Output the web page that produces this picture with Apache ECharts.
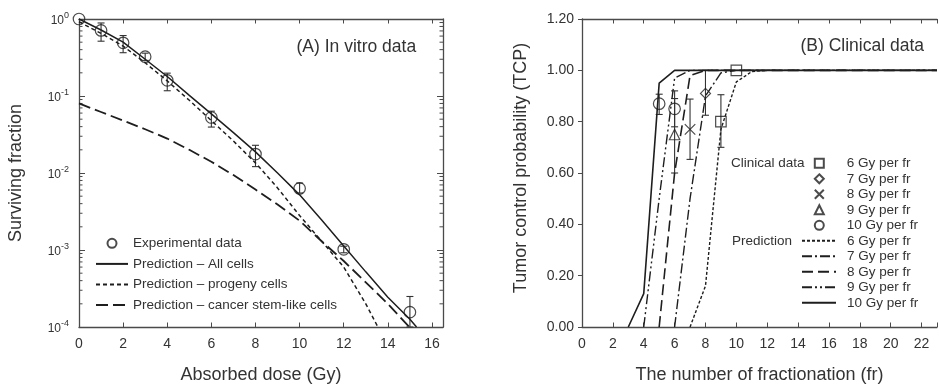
<!DOCTYPE html>
<html><head><meta charset="utf-8">
<script src="https://cdn.jsdelivr.net/npm/echarts@6/dist/echarts.min.js"></script>
<style>html,body{margin:0;padding:0;background:#fff}#c{width:940px;height:389px}</style>
</head><body><div id="c"></div>
<script>
// ---------- Panel A: in vitro data ----------
const doseTickLabels = [0, 2, 4, 6, 8, 10, 12, 14, 16];
const expDose   = [0, 1, 2, 3, 4, 6, 8, 10, 12, 15];
const expSF     = [1.0, 0.71, 0.49, 0.324, 0.16, 0.0526, 0.0176, 0.0063, 0.00102, 0.000156];
const expSFLow  = [1.0, 0.515, 0.365, 0.29, 0.117, 0.0395, 0.0121, 0.0055, 0.00092, 0.0001];
const expSFHigh = [1.0, 0.888, 0.61, 0.36, 0.198, 0.0635, 0.0229, 0.0074, 0.00112, 0.000249];

const allDose = [0, 1, 2, 3, 4, 5, 6, 7, 8, 9, 10, 11, 12, 13, 14, 15, 15.3];
const allSF   = [1.0, 0.72, 0.50, 0.30, 0.179, 0.102, 0.0586, 0.0335, 0.0188, 0.0100, 0.0052, 0.00245, 0.00113, 0.00052, 0.000244, 0.000126, 0.0001];

const progDose = [0, 1, 2, 3, 4, 5, 6, 7, 8, 9, 10, 11, 12, 13, 13.55];
const progSF   = [0.92, 0.65, 0.445, 0.27, 0.157, 0.088, 0.048, 0.026, 0.0135, 0.0064, 0.0028, 0.0013, 0.0006, 0.0002, 0.0001];

const stemDose = [0, 1, 2, 3, 4, 5, 6, 7, 8, 9, 10, 11, 12, 13, 14, 14.97];
const stemSF   = [0.08, 0.062, 0.048, 0.037, 0.028, 0.020, 0.014, 0.0094, 0.0061, 0.0039, 0.0024, 0.0013, 0.00072, 0.00038, 0.0002, 0.0001];

const logDecades = [0.0001, 0.001, 0.01, 0.1];
const logMinorMultipliers = [2, 3, 4, 5, 6, 7, 8, 9];

// ---------- Panel B: clinical data ----------
const frTickLabels = [0, 2, 4, 6, 8, 10, 12, 14, 16, 18, 20, 22];

const c6Fr = [9, 10],  c6Tcp = [0.80, 1.00],  c6Lo = [0.70, 1.00],  c6Hi = [0.905, 1.00];
const c7Fr = [8],      c7Tcp = [0.91],        c7Lo = [0.825],       c7Hi = [1.0];
const c8Fr = [7],      c8Tcp = [0.77],        c8Lo = [0.653],       c8Hi = [0.888];
const c9Fr = [6],      c9Tcp = [0.75],        c9Lo = [0.60],        c9Hi = [0.89];
const c10Fr = [5, 6],  c10Tcp = [0.87, 0.85], c10Lo = [0.828, 0.78], c10Hi = [0.907, 0.92];

const p6Fr = [7, 8, 9, 10, 11, 12, 23],  p6Tcp = [0, 0.16, 0.77, 0.955, 0.995, 1, 1];
const p7Fr = [6, 7, 8, 9, 10, 23],       p7Tcp = [0, 0.5, 0.9, 0.99, 1, 1];
const p8Fr = [5, 6, 7, 8, 23],           p8Tcp = [0, 0.6, 0.98, 1, 1];
const p9Fr = [4, 5, 6, 7, 23],           p9Tcp = [0, 0.5, 0.97, 1, 1];
const p10Fr = [3, 4, 5, 6, 23],          p10Tcp = [0, 0.13, 0.95, 1, 1];

// ---------- helpers ----------
const FONT = "'Liberation Sans', Arial, sans-serif";
const INK = '#1e1e1e';
const AXIS = '#4a4a4a';
const TEXT = '#333';
const zip = (xs, ys) => xs.map((x, i) => [x, ys[i]]);
const zip3 = (xs, a, b) => xs.map((x, i) => [x, a[i], b[i]]);
const lineItem = name => ({ name: name, itemStyle: { opacity: 0 } });

function errorBarRender(params, api) {
  const x = api.value(0), lo = api.value(1), hi = api.value(2);
  if (lo === hi) return null;
  const a = api.coord([x, hi]), b = api.coord([x, lo]);
  const w = 3.5, st = { stroke: '#333', lineWidth: 1.1 };
  return { type: 'group', children: [
    { type: 'line', shape: { x1: a[0], y1: a[1], x2: b[0], y2: b[1] }, style: st },
    { type: 'line', shape: { x1: a[0] - w, y1: a[1], x2: a[0] + w, y2: a[1] }, style: st },
    { type: 'line', shape: { x1: b[0] - w, y1: b[1], x2: b[0] + w, y2: b[1] }, style: st }
  ]};
}

const minorTickValues = [];
logDecades.forEach(d => logMinorMultipliers.forEach(m => minorTickValues.push(d * m)));

function minorTickRender(params, api) {
  const cs = params.coordSys;
  const y = api.coord([0, api.value(1)])[1];
  const st = { stroke: AXIS, lineWidth: 1 };
  return { type: 'group', children: [
    { type: 'line', shape: { x1: cs.x, y1: y, x2: cs.x + 3.5, y2: y }, style: st },
    { type: 'line', shape: { x1: cs.x + cs.width - 3.5, y1: y, x2: cs.x + cs.width, y2: y }, style: st }
  ]};
}

const axisLine = { show: true, onZero: false, lineStyle: { color: AXIS, width: 1.3 } };
const hollow = { color: 'rgba(0,0,0,0)', borderColor: INK, borderWidth: 1.2 };
const crossPath = 'path://M0,0L10,10M10,0L0,10';
const legendText = { fontSize: 13.5, lineHeight: 14, color: TEXT, fontFamily: FONT };

const chart = echarts.init(document.getElementById('c'), null, { renderer: 'canvas' });
chart.setOption({
  animation: false,
  backgroundColor: '#fff',
  textStyle: { fontFamily: FONT, color: TEXT },
  title: [
    { text: '(A) In vitro data', left: 296.5, top: 38, padding: 0,
      textStyle: { fontSize: 17.5, fontWeight: 'normal', color: TEXT, fontFamily: FONT } },
    { text: '(B) Clinical data', left: 800.5, top: 37, padding: 0,
      textStyle: { fontSize: 17.5, fontWeight: 'normal', color: TEXT, fontFamily: FONT } }
  ],
  graphic: [
    { type: 'text', left: 731, top: 156, style: { text: 'Clinical data', fontSize: 13.5, fill: TEXT, fontFamily: FONT } },
    { type: 'text', left: 732, top: 234.5, style: { text: 'Prediction', fontSize: 13.5, fill: TEXT, fontFamily: FONT } }
  ],
  grid: [
    { left: 79, top: 19, width: 364, height: 311 },
    { left: 582, top: 19, width: 360.6, height: 311 }
  ],
  legend: [
    { data: ['Experimental data', lineItem('Prediction – All cells'), lineItem('Prediction – progeny cells'), lineItem('Prediction – cancer stem-like cells')],
      orient: 'vertical', left: 95, top: 236.3, itemWidth: 32, itemHeight: 9, itemGap: 6.6, padding: 0,
      selectedMode: false, textStyle: legendText },
    { data: ['C: 6 Gy per fr', 'C: 7 Gy per fr', 'C: 8 Gy per fr', 'C: 9 Gy per fr', 'C: 10 Gy per fr'],
      formatter: n => n.slice(3),
      orient: 'vertical', left: 813.8, top: 156.3, itemWidth: 9, itemHeight: 9, itemGap: 1.5, padding: 0,
      selectedMode: false, textStyle: Object.assign({ padding: [0, 0, 0, 18] }, legendText) },
    { data: ['P: 6 Gy per fr', 'P: 7 Gy per fr', 'P: 8 Gy per fr', 'P: 9 Gy per fr', 'P: 10 Gy per fr'].map(lineItem),
      formatter: n => n.slice(3),
      orient: 'vertical', left: 801, top: 233.8, itemWidth: 34, itemHeight: 9, itemGap: 1.5, padding: 0,
      selectedMode: false, textStyle: Object.assign({ padding: [0, 0, 0, 6] }, legendText) }
  ],
  xAxis: [
    { gridIndex: 0, type: 'value', min: 0, max: 16.5, interval: 2, position: 'bottom',
      axisLine: axisLine, axisTick: { inside: true, length: 4.5, lineStyle: { color: AXIS } },
      axisLabel: { margin: 10, fontSize: 14, color: TEXT, formatter: v => doseTickLabels.includes(v) ? String(v) : '' },
      splitLine: { show: false },
      name: 'Absorbed dose (Gy)', nameLocation: 'middle', nameGap: 39,
      nameTextStyle: { fontSize: 18, color: TEXT, fontFamily: FONT } },
    { gridIndex: 0, type: 'value', min: 0, max: 16.5, interval: 2, position: 'top',
      axisLine: axisLine, axisTick: { inside: true, length: 4.5, lineStyle: { color: AXIS } },
      axisLabel: { show: false }, splitLine: { show: false } },
    { gridIndex: 1, type: 'value', min: 0, max: 23, interval: 2, position: 'bottom',
      axisLine: axisLine, axisTick: { inside: true, length: 4.5, lineStyle: { color: AXIS } },
      axisLabel: { margin: 10, fontSize: 14, color: TEXT, formatter: v => frTickLabels.includes(v) ? String(v) : '' },
      splitLine: { show: false },
      name: 'The number of fractionation (fr)', nameLocation: 'middle', nameGap: 39,
      nameTextStyle: { fontSize: 18, color: TEXT, fontFamily: FONT } },
    { gridIndex: 1, type: 'value', min: 0, max: 23, interval: 2, position: 'top',
      axisLine: axisLine, axisTick: { inside: true, length: 4.5, lineStyle: { color: AXIS } },
      axisLabel: { show: false }, splitLine: { show: false } }
  ],
  yAxis: [
    { gridIndex: 0, type: 'log', logBase: 10, min: 0.0001, max: 1, position: 'left',
      axisLine: axisLine, axisTick: { inside: true, length: 6, lineStyle: { color: AXIS } },
      axisLabel: { margin: 10, color: TEXT,
        formatter: v => '{b|10}{s|' + Math.round(Math.log10(v)) + '}',
        rich: { b: { fontSize: 12, color: TEXT, fontFamily: FONT, verticalAlign: 'bottom', lineHeight: 16 },
                s: { fontSize: 9, color: TEXT, fontFamily: FONT, verticalAlign: 'top', lineHeight: 16 } } },
      splitLine: { show: false },
      name: 'Surviving fraction', nameLocation: 'middle', nameGap: 54,
      nameTextStyle: { fontSize: 18, color: TEXT, fontFamily: FONT } },
    { gridIndex: 0, type: 'log', logBase: 10, min: 0.0001, max: 1, position: 'right',
      axisLine: axisLine, axisTick: { inside: true, length: 6, lineStyle: { color: AXIS } },
      axisLabel: { show: false }, splitLine: { show: false } },
    { gridIndex: 1, type: 'value', min: 0, max: 1.2, interval: 0.2, position: 'left',
      axisLine: axisLine, axisTick: { inside: false, length: 4, lineStyle: { color: AXIS } },
      axisLabel: { margin: 8, fontSize: 14, color: TEXT, formatter: v => v.toFixed(2) },
      splitLine: { show: false },
      name: 'Tumor control probability (TCP)', nameLocation: 'middle', nameGap: 52,
      nameTextStyle: { fontSize: 18, color: TEXT, fontFamily: FONT, padding: [0, 0, 0, 10] } }
  ],
  series: [
    // Panel A
    { type: 'custom', name: 'minorTicks', xAxisIndex: 0, yAxisIndex: 0, silent: true,
      data: minorTickValues.map(v => [0, v]), renderItem: minorTickRender },
    { type: 'line', name: 'Prediction – All cells', xAxisIndex: 0, yAxisIndex: 0, symbol: 'none',
      data: zip(allDose, allSF), lineStyle: { color: INK, width: 1.5 }, itemStyle: { color: INK } },
    { type: 'line', name: 'Prediction – progeny cells', xAxisIndex: 0, yAxisIndex: 0, symbol: 'none',
      data: zip(progDose, progSF), lineStyle: { color: INK, width: 1.5, type: [4, 3] }, itemStyle: { color: INK } },
    { type: 'line', name: 'Prediction – cancer stem-like cells', xAxisIndex: 0, yAxisIndex: 0, symbol: 'none',
      data: zip(stemDose, stemSF), lineStyle: { color: INK, width: 1.8, type: [12, 5] }, itemStyle: { color: INK } },
    { type: 'custom', name: 'expErr', xAxisIndex: 0, yAxisIndex: 0, silent: true,
      encode: { x: 0, y: [1, 2] }, data: zip3(expDose, expSFLow, expSFHigh), renderItem: errorBarRender },
    { type: 'scatter', name: 'Experimental data', xAxisIndex: 0, yAxisIndex: 0, symbol: 'circle', symbolSize: 11.5,
      data: zip(expDose, expSF), itemStyle: hollow },

    // Panel B predictions
    { type: 'line', name: 'P: 6 Gy per fr', xAxisIndex: 2, yAxisIndex: 2, symbol: 'none',
      data: zip(p6Fr, p6Tcp), lineStyle: { color: INK, width: 1.4, type: [3, 2] }, itemStyle: { color: INK } },
    { type: 'line', name: 'P: 7 Gy per fr', xAxisIndex: 2, yAxisIndex: 2, symbol: 'none',
      data: zip(p7Fr, p7Tcp), lineStyle: { color: INK, width: 1.4, type: [10, 3, 2, 3] }, itemStyle: { color: INK } },
    { type: 'line', name: 'P: 8 Gy per fr', xAxisIndex: 2, yAxisIndex: 2, symbol: 'none',
      data: zip(p8Fr, p8Tcp), lineStyle: { color: INK, width: 1.6, type: [11, 5] }, itemStyle: { color: INK } },
    { type: 'line', name: 'P: 9 Gy per fr', xAxisIndex: 2, yAxisIndex: 2, symbol: 'none',
      data: zip(p9Fr, p9Tcp), lineStyle: { color: INK, width: 1.4, type: [10, 3, 2, 3, 2, 3] }, itemStyle: { color: INK } },
    { type: 'line', name: 'P: 10 Gy per fr', xAxisIndex: 2, yAxisIndex: 2, symbol: 'none',
      data: zip(p10Fr, p10Tcp), lineStyle: { color: INK, width: 1.6 }, itemStyle: { color: INK } },

    // Panel B clinical error bars
    { type: 'custom', name: 'clinErr', xAxisIndex: 2, yAxisIndex: 2, silent: true, encode: { x: 0, y: [1, 2] },
      data: [].concat(zip3(c6Fr, c6Lo, c6Hi), zip3(c7Fr, c7Lo, c7Hi), zip3(c8Fr, c8Lo, c8Hi), zip3(c9Fr, c9Lo, c9Hi), zip3(c10Fr, c10Lo, c10Hi)),
      renderItem: errorBarRender },
    // Panel B clinical points
    { type: 'scatter', name: 'C: 6 Gy per fr', xAxisIndex: 2, yAxisIndex: 2, symbol: 'rect', symbolSize: 10.5,
      data: zip(c6Fr, c6Tcp), itemStyle: hollow },
    { type: 'scatter', name: 'C: 7 Gy per fr', xAxisIndex: 2, yAxisIndex: 2, symbol: 'diamond', symbolSize: 10,
      data: zip(c7Fr, c7Tcp), itemStyle: hollow },
    { type: 'scatter', name: 'C: 8 Gy per fr', xAxisIndex: 2, yAxisIndex: 2, symbol: crossPath, symbolSize: 10.5,
      data: zip(c8Fr, c8Tcp), itemStyle: hollow },
    { type: 'scatter', name: 'C: 9 Gy per fr', xAxisIndex: 2, yAxisIndex: 2, symbol: 'triangle', symbolSize: 10.5,
      data: zip(c9Fr, c9Tcp), itemStyle: hollow },
    { type: 'scatter', name: 'C: 10 Gy per fr', xAxisIndex: 2, yAxisIndex: 2, symbol: 'circle', symbolSize: 11.5,
      data: zip(c10Fr, c10Tcp), itemStyle: hollow }
  ]
});
</script></body></html>
